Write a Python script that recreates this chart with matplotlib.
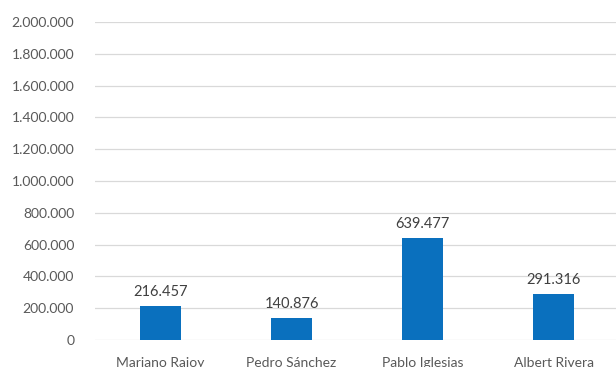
import matplotlib
matplotlib.use("Agg")
import matplotlib.pyplot as plt
from matplotlib.ticker import FuncFormatter, MultipleLocator

candidates = ["Mariano Rajoy", "Pedro Sánchez", "Pablo Iglesias", "Albert Rivera"]
followers = [216457, 140876, 639477, 291316]
y_max = 2000000
y_step = 200000

plt.rcParams["font.family"] = ["Lato", "DejaVu Sans"]

def thousands(v, pos=None):
    return f"{int(round(v)):,}".replace(",", ".")

fig = plt.figure(figsize=(6.16, 3.67), dpi=100)
ax = fig.add_axes([95 / 616, 27 / 367, 524 / 616, 318 / 367])

x = range(len(candidates))
bars = ax.bar(x, followers, width=0.31, color="#0A70BE", zorder=3)

ax.set_xlim(-0.5, len(candidates) - 0.5)
ax.set_ylim(0, y_max)
ax.yaxis.set_major_locator(MultipleLocator(y_step))
ax.yaxis.set_major_formatter(FuncFormatter(thousands))
ax.set_xticks(list(x))
ax.set_xticklabels(candidates)

ax.grid(axis="y", color="#D9D9D9", linewidth=0.9, zorder=0)
for side in ["top", "right", "left", "bottom"]:
    ax.spines[side].set_visible(False)
ax.tick_params(axis="y", length=0, pad=15, labelsize=10, labelcolor="#595959")
ax.tick_params(axis="x", length=0, pad=12, labelsize=10, labelcolor="#595959")

for bar, val in zip(bars, followers):
    ax.annotate(thousands(val), (bar.get_x() + bar.get_width() / 2, val),
                xytext=(0, 5), textcoords="offset points",
                ha="center", va="bottom", fontsize=10.5, color="#404040")

fig.savefig("out.png", dpi=100)
